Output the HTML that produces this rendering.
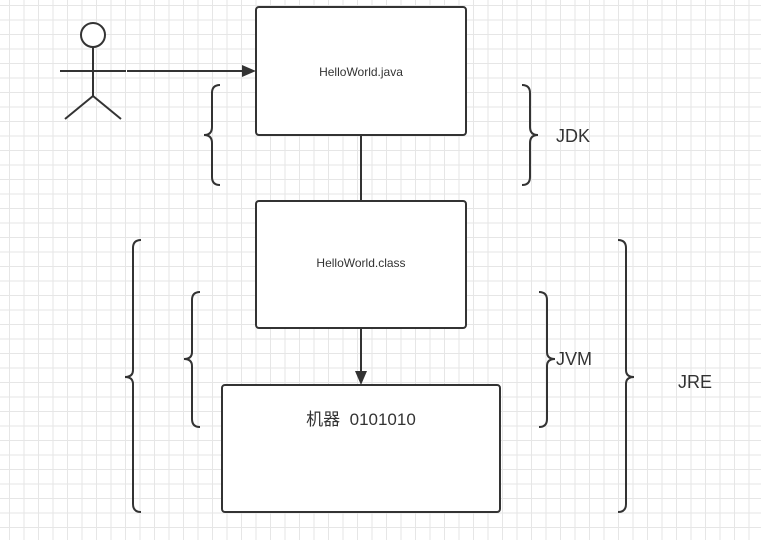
<!DOCTYPE html><html><head><style>
body{margin:0;width:761px;height:540px;overflow:hidden;background:#fff;
background-image:linear-gradient(#e6e6e6 1px,transparent 1px),linear-gradient(90deg,#e6e6e6 1px,transparent 1px);
background-size:14.5px 14.5px;background-position:9px 5px;}
</style></head><body>
<svg width="761" height="540" style="position:absolute;left:0;top:0" font-family="Liberation Sans, Noto Sans CJK SC, sans-serif">
<g stroke="#333" stroke-width="2" fill="none">
<circle cx="93" cy="35" r="12" fill="#fff"/>
<line x1="93" y1="47" x2="93" y2="96"/>
<line x1="60" y1="71" x2="126" y2="71"/>
<line x1="93" y1="96" x2="65" y2="119"/><line x1="93" y1="96" x2="121" y2="119"/>
<line x1="127" y1="71" x2="244" y2="71"/>
<rect x="256" y="7" width="210" height="128" rx="3" fill="#fff"/>
<rect x="256" y="201" width="210" height="127" rx="3" fill="#fff"/>
<rect x="222" y="385" width="278" height="127" rx="3" fill="#fff"/>
<line x1="361" y1="135" x2="361" y2="201"/>
<line x1="361" y1="328" x2="361" y2="372"/>
<path d="M220 85 Q212 85 212 93 V127 Q212 135 204 135 Q212 135 212 143 V177 Q212 185 220 185"/>
<path d="M522 85 Q530 85 530 93 V127 Q530 135 538 135 Q530 135 530 143 V177 Q530 185 522 185"/>
<path d="M200 292 Q192 292 192 300 V352 Q192 359 184 359 Q192 359 192 366 V419 Q192 427 200 427"/>
<path d="M539 292 Q547 292 547 300 V352 Q547 359 555 359 Q547 359 547 366 V419 Q547 427 539 427"/>
<path d="M141 240 Q133 240 133 248 V370 Q133 377 125 377 Q133 377 133 384 V504 Q133 512 141 512"/>
<path d="M618 240 Q626 240 626 248 V370 Q626 377 634 377 Q626 377 626 384 V504 Q626 512 618 512"/>
</g>
<path d="M256 71 L242 65 L242 77 Z" fill="#333"/>
<path d="M361 385 L355 371 L367 371 Z" fill="#333"/>
<g fill="#333">
<text x="361" y="76" font-size="12" text-anchor="middle">HelloWorld.java</text>
<text x="361" y="267" font-size="12" text-anchor="middle">HelloWorld.class</text>
<text x="361" y="425" font-size="17" text-anchor="middle">机器&#160;&#160;0101010</text>
<text x="556" y="142" font-size="18">JDK</text>
<text x="556" y="365" font-size="18">JVM</text>
<text x="678" y="388" font-size="18">JRE</text>
</g>
</svg>
</body></html>
